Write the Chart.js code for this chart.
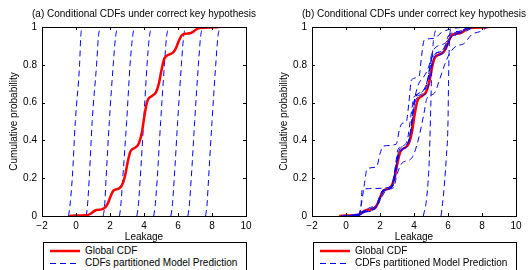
<!DOCTYPE html>
<html>
<head>
<meta charset="utf-8">
<script src="https://cdn.jsdelivr.net/npm/chart.js@4.4.1/dist/chart.umd.min.js"></script>
<style>
    body { margin: 0; background: #fff; width: 528px; height: 270px; overflow: hidden; position: relative; font-family: "Liberation Sans", Arial, sans-serif; }
    .panel { position: absolute; top: 0; height: 270px; }
    .legend { position: absolute; top: 242px; width: 202px; height: 40px; border: 1px solid #000; background: #fff; font-size: 10px; color: #000; }
    .legend .row { position: absolute; left: 0; height: 12px; width: 100%; }
    .legend svg { position: absolute; left: 6px; top: 0; }
    .legend span { position: absolute; left: 41px; top: 0; line-height: 12px; white-space: nowrap; }
</style>
</head>
<body>
<div class="panel" style="left:0;width:264px"><canvas id="chartA" width="264" height="270"></canvas></div>
<div class="panel" style="left:270px;width:258px"><canvas id="chartB" width="258" height="270"></canvas></div>

<div class="legend" style="left:43px">
    <div class="row" style="top:2px"><svg width="30" height="12"><line x1="0" y1="6" x2="30" y2="6" stroke="#ff0000" stroke-width="2.5"/></svg><span>Global CDF</span></div>
    <div class="row" style="top:14px"><svg width="30" height="12"><line x1="0" y1="6.5" x2="30" y2="6.5" stroke="#0000ff" stroke-width="1" stroke-dasharray="6,4"/></svg><span>CDFs partitioned Model Prediction</span></div>
</div>
<div class="legend" style="left:313px">
    <div class="row" style="top:2px"><svg width="30" height="12"><line x1="0" y1="6" x2="30" y2="6" stroke="#ff0000" stroke-width="2.5"/></svg><span>Global CDF</span></div>
    <div class="row" style="top:14px"><svg width="30" height="12"><line x1="0" y1="6.5" x2="30" y2="6.5" stroke="#0000ff" stroke-width="1" stroke-dasharray="6,4"/></svg><span>CDFs partitioned Model Prediction</span></div>
</div>

<script>
const xTickValues = [-2, 0, 2, 4, 6, 8, 10];
const xTickLabels = ["\u22122", "0", "2", "4", "6", "8", "10"];
const yTickValues = [0, 0.2, 0.4, 0.6, 0.8, 1];
const yTickLabels = ["0", "0.2", "0.4", "0.6", "0.8", "1"];

// global CDF (same in both panels)
const globalX = [-0.4, 0, 0.5, 0.7, 0.88, 1.02, 1.2, 1.5, 1.7, 1.88, 2.02, 2.2, 2.5, 2.7, 2.88, 3.02, 3.2, 3.5,
    3.7, 3.88, 4.02, 4.2, 4.5, 4.7, 4.88, 5.02, 5.2, 5.5, 5.7, 5.88, 6.02, 6.2, 6.5, 6.7, 6.88, 7.02, 7.2, 7.5, 8.0, 8.4];
const globalY = [0, 0.002, 0.004, 0.006, 0.013, 0.023, 0.032, 0.035, 0.044, 0.068, 0.101, 0.134, 0.145, 0.162, 0.21, 0.276, 0.341, 0.363,
    0.385, 0.445, 0.527, 0.609, 0.637, 0.654, 0.702, 0.768, 0.834, 0.855, 0.864, 0.888, 0.921, 0.954, 0.965, 0.967, 0.974, 0.984, 0.993, 0.996, 0.998, 1];

// (a) partitions: x position reached at each probability level
const cdfLevels = [0, 0.05, 0.2, 0.5, 0.8, 0.95, 1];
const partitionsA = [
    [-0.44, -0.36, -0.22, -0.04, 0.21, 0.28, 0.35],
    [0.6, 0.67, 0.78, 0.95, 1.21, 1.32, 1.41],
    [1.6, 1.68, 1.77, 1.96, 2.19, 2.33, 2.45],
    [2.56, 2.63, 2.75, 2.98, 3.18, 3.33, 3.43],
    [3.58, 3.66, 3.78, 3.98, 4.18, 4.32, 4.45],
    [4.57, 4.65, 4.78, 4.98, 5.2, 5.33, 5.45],
    [5.58, 5.66, 5.78, 5.98, 6.2, 6.33, 6.45],
    [6.58, 6.66, 6.78, 6.98, 7.2, 7.33, 7.45],
    [7.62, 7.7, 7.8, 8.0, 8.22, 8.35, 8.47]
];

// (b) partitions
const partitionsBx = [
    [-0.3, 0.6, 1.0, 1.5, 1.8, 2.0, 2.2, 2.6, 2.85, 3.0, 3.2, 3.6, 3.8, 3.95, 4.1, 4.5, 4.8, 4.95, 5.1, 5.6, 5.85, 6.0, 6.5, 7.0, 7.3],
    [0.75, 0.9, 1.05, 1.25, 1.8, 2.0, 2.2, 2.95, 3.15, 3.3, 3.55, 3.7, 3.85, 4.3, 4.45, 4.6, 5.2, 5.6, 6.2, 7.0],
    [0.8, 0.88, 0.95, 1.5, 2.4, 2.7, 2.9, 3.05, 3.3, 3.6, 3.85, 4.0, 4.4, 4.8, 5.0, 5.3, 5.7, 6.0, 6.5, 7.0, 7.5],
    [0, 0.8, 1.1, 1.6, 1.9, 2.1, 2.4, 2.7, 2.95, 3.1, 3.5, 3.7, 3.9, 4.05, 4.3, 4.6, 4.85, 5.0, 5.2, 5.6, 5.9, 6.1, 6.5, 6.9, 7.5],
    [0.4, 1.0, 1.5, 1.85, 2.05, 2.3, 2.7, 2.9, 3.05, 3.3, 3.7, 3.85, 4.0, 4.2, 4.4, 4.6, 4.9, 5.05, 5.4, 5.9, 6.1, 6.8, 7.4],
    [0.2, 0.9, 1.3, 1.8, 2.1, 2.4, 2.8, 3.0, 3.3, 3.8, 4.0, 4.3, 4.6, 4.75, 5.2, 5.5, 5.8, 6.1, 6.5, 6.9, 7.4, 8.0, 8.3],
    [4.55, 4.75, 4.9, 4.97, 5.02, 5.1, 5.2, 5.37],
    [5.59, 5.72, 5.9, 6.0, 6.03, 6.06, 6.12, 6.25],
    [-0.2, 0.5, 1.0, 1.3, 1.7, 1.95, 2.15, 2.5, 2.8, 2.95, 3.1, 3.4, 3.75, 3.9, 4.05, 4.35, 4.7, 4.9, 5.05, 5.4, 5.8, 6.0, 6.2, 6.6, 7.1, 7.5]
];
const partitionsBy = [
    [0, 0.01, 0.025, 0.04, 0.06, 0.11, 0.14, 0.15, 0.2, 0.3, 0.36, 0.38, 0.45, 0.55, 0.63, 0.66, 0.72, 0.8, 0.85, 0.87, 0.9, 0.95, 0.97, 0.99, 1],
    [0, 0.06, 0.15, 0.25, 0.26, 0.33, 0.37, 0.38, 0.46, 0.49, 0.5, 0.6, 0.72, 0.74, 0.85, 0.93, 0.94, 0.97, 0.99, 1],
    [0, 0.05, 0.14, 0.145, 0.15, 0.17, 0.26, 0.35, 0.37, 0.4, 0.55, 0.63, 0.65, 0.72, 0.82, 0.86, 0.88, 0.93, 0.96, 0.99, 1],
    [0, 0.005, 0.02, 0.03, 0.07, 0.12, 0.14, 0.16, 0.27, 0.34, 0.36, 0.39, 0.5, 0.6, 0.63, 0.64, 0.69, 0.78, 0.84, 0.86, 0.89, 0.94, 0.96, 0.98, 1],
    [0, 0.02, 0.03, 0.05, 0.1, 0.14, 0.15, 0.22, 0.3, 0.35, 0.4, 0.48, 0.6, 0.68, 0.72, 0.74, 0.8, 0.86, 0.9, 0.92, 0.96, 0.98, 1],
    [0, 0.01, 0.04, 0.06, 0.1, 0.14, 0.15, 0.22, 0.28, 0.3, 0.33, 0.42, 0.55, 0.62, 0.65, 0.72, 0.8, 0.86, 0.9, 0.91, 0.96, 0.98, 1],
    [0, 0.1, 0.3, 0.52, 0.7, 0.88, 0.96, 1],
    [0, 0.1, 0.31, 0.5, 0.7, 0.85, 0.97, 1],
    [0, 0.005, 0.015, 0.03, 0.04, 0.08, 0.13, 0.145, 0.17, 0.25, 0.33, 0.36, 0.42, 0.52, 0.62, 0.64, 0.68, 0.76, 0.84, 0.85, 0.87, 0.91, 0.95, 0.965, 0.98, 1]
];

const FONT = '10px "Liberation Sans", Arial, sans-serif';

function points(xs, ys) {
    return xs.map((v, i) => ({ x: v, y: ys[i] }));
}

function redLine() {
    return {
        data: points(globalX, globalY),
        borderColor: "#ff0000",
        borderWidth: 2.5,
        pointRadius: 0,
        cubicInterpolationMode: "monotone"
    };
}

function blueLine(xs, ys) {
    return {
        data: points(xs, ys),
        borderColor: "#0000ff",
        borderWidth: 1,
        borderDash: [6, 4],
        pointRadius: 0,
        cubicInterpolationMode: "monotone"
    };
}

// box, inward ticks, title and axis titles like the matlab figure
const framePlugin = {
    id: "frame",
    afterDraw(chart, args, opts) {
        const ctx = chart.ctx;
        const a = chart.chartArea;
        const xs = chart.scales.x;
        const ys = chart.scales.y;
        ctx.save();
        ctx.strokeStyle = "#000";
        ctx.lineWidth = 1;
        ctx.strokeRect(Math.round(a.left) + 0.5, Math.round(a.top) + 0.5, Math.round(a.right - a.left), Math.round(a.bottom - a.top));
        ctx.beginPath();
        xTickValues.forEach(v => {
            const px = Math.round(xs.getPixelForValue(v)) + 0.5;
            ctx.moveTo(px, a.bottom);
            ctx.lineTo(px, a.bottom - 3);
            ctx.moveTo(px, a.top);
            ctx.lineTo(px, a.top + 3);
        });
        yTickValues.forEach(v => {
            const py = Math.round(ys.getPixelForValue(v)) + 0.5;
            ctx.moveTo(a.left, py);
            ctx.lineTo(a.left + 3, py);
            ctx.moveTo(a.right, py);
            ctx.lineTo(a.right - 3, py);
        });
        ctx.stroke();

        ctx.fillStyle = "#000";
        ctx.font = FONT;
        ctx.textAlign = "center";
        ctx.textBaseline = "middle";
        const cx = (a.left + a.right) / 2;
        ctx.fillText(opts.title, cx, 14);
        ctx.fillText("Leakage", cx, 237);
        ctx.translate(14, (a.top + a.bottom) / 2);
        ctx.rotate(-Math.PI / 2);
        ctx.fillText("Cumulative probability", 0, 0);
        ctx.restore();
    }
};

function makeChart(id, datasets, title, padRight) {
    return new Chart(document.getElementById(id), {
        type: "line",
        data: { datasets: datasets },
        plugins: [framePlugin],
        options: {
            responsive: false,
            animation: false,
            devicePixelRatio: 1,
            layout: { padding: { left: 0, right: padRight, top: 27, bottom: 27 } },
            plugins: {
                legend: { display: false },
                tooltip: { enabled: false },
                frame: { title: title }
            },
            scales: {
                x: {
                    type: "linear",
                    min: -2,
                    max: 10,
                    afterBuildTicks: s => { s.ticks = xTickValues.map(v => ({ value: v })); },
                    afterFit: s => { s.height = 27; },
                    ticks: {
                        color: "#000",
                        padding: 4,
                        maxRotation: 0,
                        font: { family: "Liberation Sans", size: 10 },
                        callback: (v, i) => xTickLabels[i]
                    },
                    grid: { display: false, drawTicks: false },
                    border: { display: false }
                },
                y: {
                    type: "linear",
                    min: 0,
                    max: 1,
                    afterBuildTicks: s => { s.ticks = yTickValues.map(v => ({ value: v })); },
                    afterFit: s => { s.width = 42; },
                    ticks: {
                        color: "#000",
                        padding: 5,
                        font: { family: "Liberation Sans", size: 10 },
                        callback: (v, i) => yTickLabels[i]
                    },
                    grid: { display: false, drawTicks: false },
                    border: { display: false }
                }
            }
        }
    });
}

// (a): red on top
const datasetsA = [redLine()].concat(partitionsA.map(xs => blueLine(xs, cdfLevels)));
makeChart("chartA", datasetsA, "(a) Conditional CDFs under correct key hypothesis", 18);

// (b): blue dashes drawn over the red
const datasetsB = partitionsBx.map((xs, i) => blueLine(xs, partitionsBy[i])).concat([redLine()]);
makeChart("chartB", datasetsB, "(b) Conditional CDFs under correct key hypothesis", 12);
</script>
</body>
</html>
